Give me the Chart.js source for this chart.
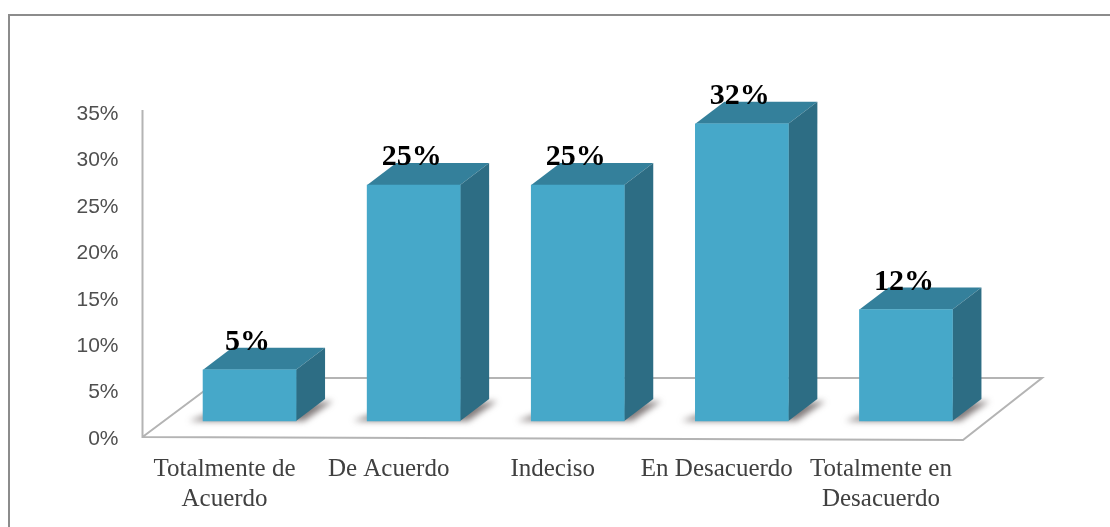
<!DOCTYPE html>
<html lang="es">
<head>
    <meta charset="UTF-8">
    <title>Grafico</title>
    <script src="https://cdn.jsdelivr.net/npm/chart.js"></script>
    <style>
        html, body { margin: 0; padding: 0; background: #fff; overflow: hidden; }
        #wrap { position: relative; width: 1110px; height: 527px; }
        #frame { position: absolute; left: 8px; top: 14px; width: 1200px; height: 600px; border: 2px solid #8c8c8c; box-sizing: border-box; }
        canvas { position: absolute; left: 0; top: 0; }
    </style>
</head>
<body>
<div id="wrap">
    <div id="frame"></div>
    <canvas id="chart" width="1110" height="527"></canvas>
</div>
<script>
    const categories = [["Totalmente de", "Acuerdo"], "De Acuerdo", "Indeciso", "En Desacuerdo", ["Totalmente en", "Desacuerdo"]];
    const percentages = [5.5, 25.4, 25.4, 32, 12];
    const valueLabels = ["5%", "25%", "25%", "32%", "12%"];
    const yTicks = [0, 5, 10, 15, 20, 25, 30, 35];

    const depthX = 29, depthY = 22;
    const frontColor = "#46a8c9", topColor = "#34809b", sideColor = "#2d6d84";

    function poly(ctx, pts, fill) {
        ctx.beginPath();
        pts.forEach((p, i) => i ? ctx.lineTo(p[0], p[1]) : ctx.moveTo(p[0], p[1]));
        ctx.closePath();
        ctx.fillStyle = fill;
        ctx.fill();
    }

    // bars only have a front face in chart.js, the rest of the 3d look goes in here
    const box3d = {
        id: "box3d",
        beforeDatasetsDraw(chart) {
            const ctx = chart.ctx, y = chart.scales.y, bottom = y.getPixelForValue(0), top = y.getPixelForValue(35);
            const left = chart.chartArea.left - 25, right = chart.chartArea.right - 25;

            ctx.save();
            ctx.strokeStyle = "#b4b4b4";
            ctx.lineWidth = 2;
            ctx.beginPath();
            ctx.moveTo(left, top - 2);
            ctx.lineTo(left, bottom);
            ctx.lineTo(right, bottom + 3);
            ctx.lineTo(right + 79, bottom - 59);
            ctx.lineTo(left + 79, bottom - 59);
            ctx.lineTo(left, bottom);
            ctx.stroke();

            const bars = chart.getDatasetMeta(0).data;
            bars.forEach((bar, i) => {
                const l = bar.x - bar.width / 2, r = bar.x + bar.width / 2;
                ctx.save();
                ctx.filter = "blur(3px)";
                poly(ctx, [[l - 14, bar.base], [l + 8, bar.base - 8], [r + depthX + 8, bar.base - depthY + 2], [r + 8, bar.base]], "rgba(90,80,80,0.75)");
                ctx.restore();

                poly(ctx, [[l, bar.y], [l + depthX, bar.y - depthY], [r + depthX, bar.y - depthY], [r, bar.y]], topColor);
                poly(ctx, [[r, bar.y], [r + depthX, bar.y - depthY], [r + depthX, bar.base - depthY], [r, bar.base]], sideColor);

                ctx.fillStyle = "#000";
                ctx.font = "bold 30px 'Liberation Serif'";
                ctx.textAlign = "center";
                ctx.textBaseline = "alphabetic";
                ctx.fillText(valueLabels[i], bar.x - 2, bar.y - 20);
            });
            ctx.restore();
        }
    };

    new Chart(document.getElementById("chart"), {
        type: "bar",
        data: {
            labels: categories,
            datasets: [{
                data: percentages,
                yAxisID: "front",
                backgroundColor: frontColor,
                borderWidth: 0,
                barThickness: 93
            }]
        },
        options: {
            responsive: false,
            animation: false,
            layout: { padding: { top: 112, left: 0, right: 122, bottom: 0 } },
            plugins: { legend: { display: false }, tooltip: { enabled: false } },
            scales: {
                x: {
                    afterFit: s => { s.height = 90; },
                    grid: { display: false },
                    border: { display: false },
                    ticks: {
                        color: "#404040",
                        font: { family: "'Liberation Serif'", size: 25 },
                        labelOffset: -25,
                        padding: 9,
                        maxRotation: 0,
                        autoSkip: false
                    }
                },
                y: {
                    min: 0,
                    max: 35,
                    afterBuildTicks: s => { s.ticks = yTicks.map(v => ({ value: v })); },
                    afterFit: s => { s.width = 167.5; },
                    grid: { display: false },
                    border: { display: false },
                    ticks: {
                        color: "#4f4f4f",
                        font: { family: "'Liberation Sans'", size: 21 },
                        padding: 41,
                        labelOffset: 2,
                        callback: v => v + "%"
                    }
                },
                // bars stand on the floor in front of the wall, so they get their own shifted scale
                front: {
                    display: false,
                    min: -1.73,
                    max: 33.27
                }
            }
        },
        plugins: [box3d]
    });
</script>
</body>
</html>
